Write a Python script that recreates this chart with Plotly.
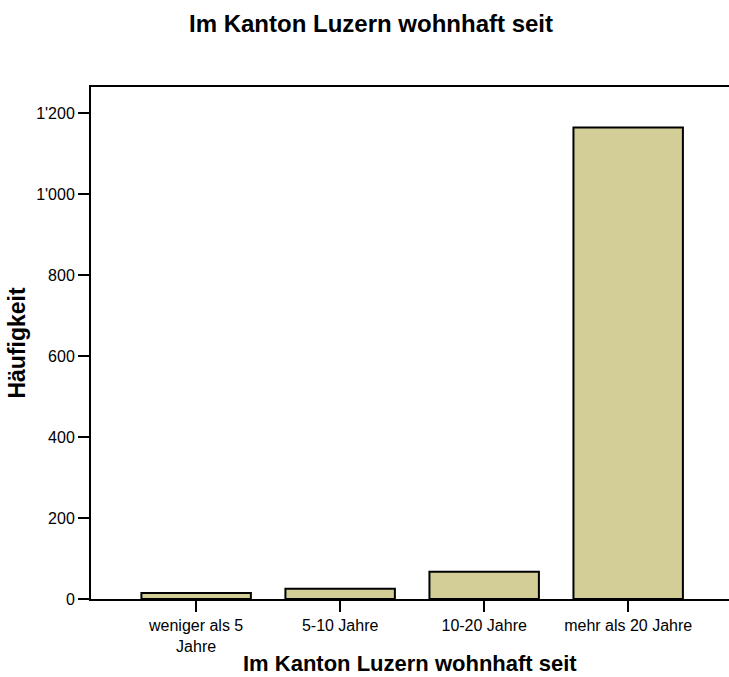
import plotly.graph_objects as go

categories = ["weniger als 5<br>Jahre", "5-10 Jahre", "10-20 Jahre", "mehr als 20 Jahre"]
counts = [15, 25, 67, 1164]
y_ticks = [0, 200, 400, 600, 800, 1000, 1200]

font = "Liberation Sans, Arial, sans-serif"

fig = go.Figure()
fig.add_trace(go.Bar(
    x=categories, y=counts, width=0.76,
    marker=dict(color="#D3CE98", line=dict(color="black", width=2)),
))

fig.update_layout(
    width=729, height=677,
    paper_bgcolor="white", plot_bgcolor="white",
    margin=dict(l=91, r=0, t=87, b=78),
    separators=".'",
    showlegend=False,
    font=dict(family=font, size=16, color="black"),
    title=dict(text="<b>Im Kanton Luzern wohnhaft seit</b>", x=371 / 729, xanchor="center",
               y=1 - 24 / 677, yanchor="middle", font=dict(size=24)),
)
fig.update_xaxes(
    range=[-0.73, 3.70], showline=True, linecolor="black", linewidth=2, mirror=True,
    ticks="outside", ticklen=11, tickwidth=2, tickcolor="black", showgrid=False,
    automargin=False,
)
fig.update_yaxes(
    range=[0, 1264], showline=True, linecolor="black", linewidth=2,
    tickvals=y_ticks, tickformat=",", ticks="outside", ticklen=11, tickwidth=2,
    tickcolor="black", showgrid=False, zeroline=False,
    title=dict(text="<b>Häufigkeit</b>", font=dict(size=23), standoff=4),
)

# x axis title as an annotation so it can sit close to the bottom edge
fig.add_annotation(text="<b>Im Kanton Luzern wohnhaft seit</b>", xref="paper", yref="paper",
                   x=0.5, y=-64 / 512, xanchor="center", yanchor="middle",
                   showarrow=False, font=dict(size=22), borderpad=0)

# drop the default 8px body margin so the figure fills the window exactly
fig.write_html("out.html", config={"displayModeBar": False},
               post_script="document.body.style.margin='0';")
